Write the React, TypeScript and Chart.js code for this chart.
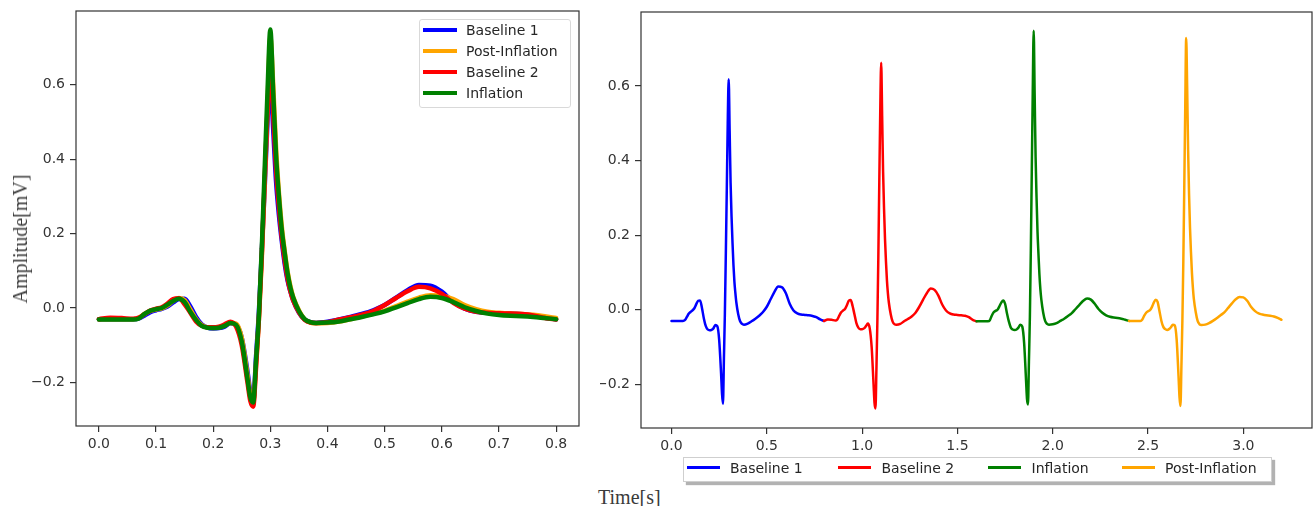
import React, { useEffect, useRef } from 'react';
import { Chart, registerables } from 'chart.js';

Chart.register(...registerables);

// ---- data (seconds / mV) ----
const TIME = [0, 0.02, 0.04, 0.06, 0.07, 0.08, 0.09, 0.10, 0.11, 0.12, 0.13, 0.14, 0.15, 0.16, 0.17, 0.18, 0.19, 0.20, 0.21, 0.22, 0.23, 0.24, 0.25, 0.26, 0.265, 0.27, 0.275, 0.28, 0.285, 0.29, 0.295, 0.30, 0.305, 0.31, 0.315, 0.32, 0.325, 0.33, 0.335, 0.34, 0.35, 0.36, 0.37, 0.38, 0.40, 0.42, 0.44, 0.46, 0.48, 0.50, 0.52, 0.54, 0.56, 0.58, 0.60, 0.62, 0.64, 0.66, 0.68, 0.70, 0.72, 0.74, 0.76, 0.78, 0.80];

const BASELINE_1 = [-0.030, -0.030, -0.030, -0.030, -0.028, -0.020, -0.011, -0.006, -0.002, 0.004, 0.015, 0.024, 0.025, 0.004, -0.024, -0.044, -0.053, -0.055, -0.054, -0.050, -0.041, -0.044, -0.080, -0.170, -0.225, -0.252, -0.130, -0.010, 0.150, 0.320, 0.500, 0.618, 0.480, 0.340, 0.250, 0.180, 0.120, 0.075, 0.045, 0.020, -0.012, -0.031, -0.038, -0.040, -0.037, -0.031, -0.024, -0.016, -0.006, 0.008, 0.028, 0.048, 0.062, 0.060, 0.044, 0.016, -0.002, -0.010, -0.013, -0.014, -0.015, -0.017, -0.020, -0.026, -0.030];

const BASELINE_2 = [-0.030, -0.026, -0.027, -0.029, -0.026, -0.016, -0.007, -0.002, 0.002, 0.012, 0.024, 0.026, 0.010, -0.013, -0.036, -0.048, -0.052, -0.052, -0.050, -0.044, -0.037, -0.050, -0.100, -0.200, -0.250, -0.265, -0.160, -0.030, 0.140, 0.340, 0.530, 0.662, 0.520, 0.370, 0.270, 0.190, 0.130, 0.080, 0.045, 0.020, -0.012, -0.032, -0.039, -0.040, -0.038, -0.031, -0.025, -0.018, -0.008, 0.008, 0.027, 0.045, 0.057, 0.053, 0.038, 0.014, -0.002, -0.010, -0.013, -0.014, -0.015, -0.016, -0.020, -0.027, -0.031];

const INFLATION = [-0.031, -0.031, -0.031, -0.031, -0.028, -0.016, -0.007, -0.003, 0.000, 0.009, 0.019, 0.025, 0.016, -0.010, -0.032, -0.048, -0.053, -0.054, -0.053, -0.048, -0.040, -0.045, -0.090, -0.190, -0.240, -0.254, -0.140, -0.020, 0.160, 0.370, 0.580, 0.748, 0.580, 0.410, 0.300, 0.210, 0.150, 0.095, 0.055, 0.028, -0.008, -0.030, -0.038, -0.040, -0.039, -0.036, -0.030, -0.024, -0.017, -0.009, 0.002, 0.013, 0.024, 0.030, 0.027, 0.016, 0.002, -0.008, -0.015, -0.019, -0.021, -0.022, -0.024, -0.027, -0.030];

const POST_INFLATION = [-0.030, -0.030, -0.030, -0.030, -0.026, -0.016, -0.008, -0.004, -0.001, 0.007, 0.019, 0.027, 0.021, -0.004, -0.030, -0.046, -0.052, -0.054, -0.052, -0.047, -0.040, -0.042, -0.080, -0.180, -0.235, -0.258, -0.150, -0.030, 0.130, 0.330, 0.540, 0.728, 0.600, 0.430, 0.310, 0.220, 0.155, 0.100, 0.060, 0.030, -0.006, -0.030, -0.039, -0.041, -0.040, -0.036, -0.030, -0.023, -0.015, -0.007, 0.005, 0.017, 0.028, 0.034, 0.033, 0.024, 0.008, -0.003, -0.010, -0.013, -0.015, -0.016, -0.018, -0.022, -0.027];

// right panel: recordings laid end to end
const SEGMENT_OFFSETS = [0, 0.8, 1.6, 2.4];

const LEFT_X_TICKS = [0, 0.1, 0.2, 0.3, 0.4, 0.5, 0.6, 0.7, 0.8];
const RIGHT_X_TICKS = [0, 0.5, 1.0, 1.5, 2.0, 2.5, 3.0];
const Y_TICKS = [-0.2, 0, 0.2, 0.4, 0.6];

const LEFT_LEGEND = ['Baseline 1', 'Post-Inflation', 'Baseline 2', 'Inflation'];
const RIGHT_LEGEND = ['Baseline 1', 'Baseline 2', 'Inflation', 'Post-Inflation'];

const COLORS: Record<string, string> = {
  'Baseline 1': '#0000ff',
  'Baseline 2': '#ff0000',
  'Inflation': '#008000',
  'Post-Inflation': '#ffa500',
};
const SERIES: Record<string, number[]> = {
  'Baseline 1': BASELINE_1,
  'Baseline 2': BASELINE_2,
  'Inflation': INFLATION,
  'Post-Inflation': POST_INFLATION,
};

const fmt = (v: number) => {
  const s = Math.abs(v).toFixed(1);
  return v < -1e-9 ? '\u2212' + s : s;
};

const framePlugin = {
  id: 'frame',
  afterDatasetsDraw(chart: any) {
    const { ctx, chartArea: a } = chart;
    ctx.save();
    ctx.strokeStyle = '#333333';
    ctx.lineWidth = 1.2;
    ctx.strokeRect(a.left, a.top, a.right - a.left, a.bottom - a.top);
    ctx.restore();
  },
};

function makeScales(xMin: number, xMax: number, xTicks: number[], yWidth: number, xHeight: number) {
  const tickFont = { family: 'DejaVu Sans', size: 14 };
  const grid = { display: true, drawOnChartArea: false, drawTicks: true, tickLength: 6, color: '#333333', lineWidth: 1.2 };
  return {
    x: {
      type: 'linear',
      min: xMin,
      max: xMax,
      afterBuildTicks: (s: any) => { s.ticks = xTicks.map((v) => ({ value: v })); },
      afterFit: (s: any) => { s.height = xHeight; },
      grid,
      border: { display: false },
      ticks: { font: tickFont, color: '#333333', padding: 4, maxRotation: 0, autoSkip: false, callback: (v: any) => fmt(Number(v)) },
    },
    y: {
      type: 'linear',
      min: -0.317,
      max: 0.798,
      afterBuildTicks: (s: any) => { s.ticks = Y_TICKS.map((v) => ({ value: v })); },
      afterFit: (s: any) => { s.width = yWidth; },
      grid,
      border: { display: false },
      ticks: { font: tickFont, color: '#333333', padding: 5, autoSkip: false, callback: (v: any) => fmt(Number(v)) },
    },
  };
}

function LeftChart() {
  const ref = useRef<HTMLCanvasElement>(null);
  useEffect(() => {
    const orders: Record<string, number> = { 'Baseline 1': 4, 'Post-Inflation': 3, 'Baseline 2': 2, 'Inflation': 1 };
    const chart = new Chart(ref.current!, {
      type: 'line',
      data: {
        datasets: LEFT_LEGEND.map((name) => ({
          label: name,
          data: TIME.map((t, i) => ({ x: t, y: SERIES[name][i] })),
          borderColor: COLORS[name],
          backgroundColor: COLORS[name],
          borderWidth: 4.5,
          pointRadius: 0,
          cubicInterpolationMode: 'monotone',
          borderJoinStyle: 'round',
          borderCapStyle: 'round',
          fill: false,
          order: orders[name],
        })),
      } as any,
      options: {
        animation: false,
        responsive: false,
        devicePixelRatio: 1,
        layout: { padding: { left: 0, top: 31, right: 21, bottom: 0 } },
        plugins: { legend: { display: false }, tooltip: { enabled: false } },
        scales: makeScales(-0.04, 0.84, LEFT_X_TICKS, 76, 44) as any,
      },
      plugins: [framePlugin],
    });
    return () => chart.destroy();
  }, []);
  return <canvas ref={ref} width={600} height={490} style={{ width: 600, height: 490, display: 'block' }} />;
}

function RightChart() {
  const ref = useRef<HTMLCanvasElement>(null);
  useEffect(() => {
    const chart = new Chart(ref.current!, {
      type: 'line',
      data: {
        datasets: RIGHT_LEGEND.map((name, k) => ({
          label: name,
          data: TIME.map((t, i) => ({ x: t + SEGMENT_OFFSETS[k], y: SERIES[name][i] })),
          borderColor: COLORS[name],
          backgroundColor: COLORS[name],
          borderWidth: 2.5,
          pointRadius: 0,
          cubicInterpolationMode: 'monotone',
          borderJoinStyle: 'round',
          borderCapStyle: 'round',
          fill: false,
          order: RIGHT_LEGEND.length - k,
        })),
      } as any,
      options: {
        animation: false,
        responsive: false,
        devicePixelRatio: 1,
        layout: { padding: { left: 0, top: 32, right: 2, bottom: 0 } },
        plugins: { legend: { display: false }, tooltip: { enabled: false } },
        scales: makeScales(-0.16, 3.36, RIGHT_X_TICKS, 41, 42) as any,
      },
      plugins: [framePlugin],
    });
    return () => chart.destroy();
  }, []);
  return <canvas ref={ref} width={714} height={490} style={{ width: 714, height: 490, display: 'block' }} />;
}

const legendText: React.CSSProperties = {
  position: 'absolute',
  fontFamily: 'DejaVu Sans',
  fontSize: 14,
  color: '#262626',
  lineHeight: '20px',
  height: 20,
  whiteSpace: 'nowrap',
};

export default function App() {
  const leftRows = [30, 51.1, 72.2, 93.3];
  const rightItems = [
    { line: 687, text: 730 },
    { line: 838, text: 881.5 },
    { line: 988, text: 1031.5 },
    { line: 1121.5, text: 1165 },
  ];
  return (
    <div style={{ position: 'fixed', left: 0, top: 0, width: 1314, height: 506, background: '#ffffff', overflow: 'hidden' }}>
      <div style={{ position: 'absolute', left: 0, top: -20 }}>
        <LeftChart />
      </div>
      <div style={{ position: 'absolute', left: 600, top: -20 }}>
        <RightChart />
      </div>

      {/* left legend */}
      <div style={{ position: 'absolute', left: 419, top: 19, width: 150, height: 87, border: '1px solid #d9d9d9', borderRadius: 3, background: 'rgba(255,255,255,0.8)' }} />
      {LEFT_LEGEND.map((name, i) => (
        <React.Fragment key={name}>
          <div style={{ position: 'absolute', left: 423, top: leftRows[i] - 2, width: 34, height: 4, background: COLORS[name] }} />
          <div style={{ ...legendText, left: 466, top: leftRows[i] - 10 }}>{name}</div>
        </React.Fragment>
      ))}

      {/* bottom legend */}
      <div style={{ position: 'absolute', left: 683, top: 457, width: 587, height: 23, border: '1px solid #cfcfcf', background: '#ffffff', boxShadow: '3px 3px 1px rgba(0,0,0,0.3)' }} />
      {RIGHT_LEGEND.map((name, i) => (
        <React.Fragment key={name}>
          <div style={{ position: 'absolute', left: rightItems[i].line, top: 466.2, width: 33, height: 3, background: COLORS[name] }} />
          <div style={{ ...legendText, left: rightItems[i].text, top: 457.7 }}>{name}</div>
        </React.Fragment>
      ))}

      {/* axis labels */}
      <div style={{ position: 'absolute', left: 598, top: 486.5, fontFamily: 'Liberation Serif', fontSize: 20, lineHeight: '20px', color: '#3a3a3a', whiteSpace: 'nowrap' }}>Time[s]</div>
      <div style={{ position: 'absolute', left: 19.5, top: 239, fontFamily: 'Liberation Serif', fontSize: 20, lineHeight: '20px', color: '#3a3a3a', whiteSpace: 'nowrap', transform: 'translate(-50%, -50%) rotate(-90deg)' }}>Amplitude[mV]</div>
    </div>
  );
}
